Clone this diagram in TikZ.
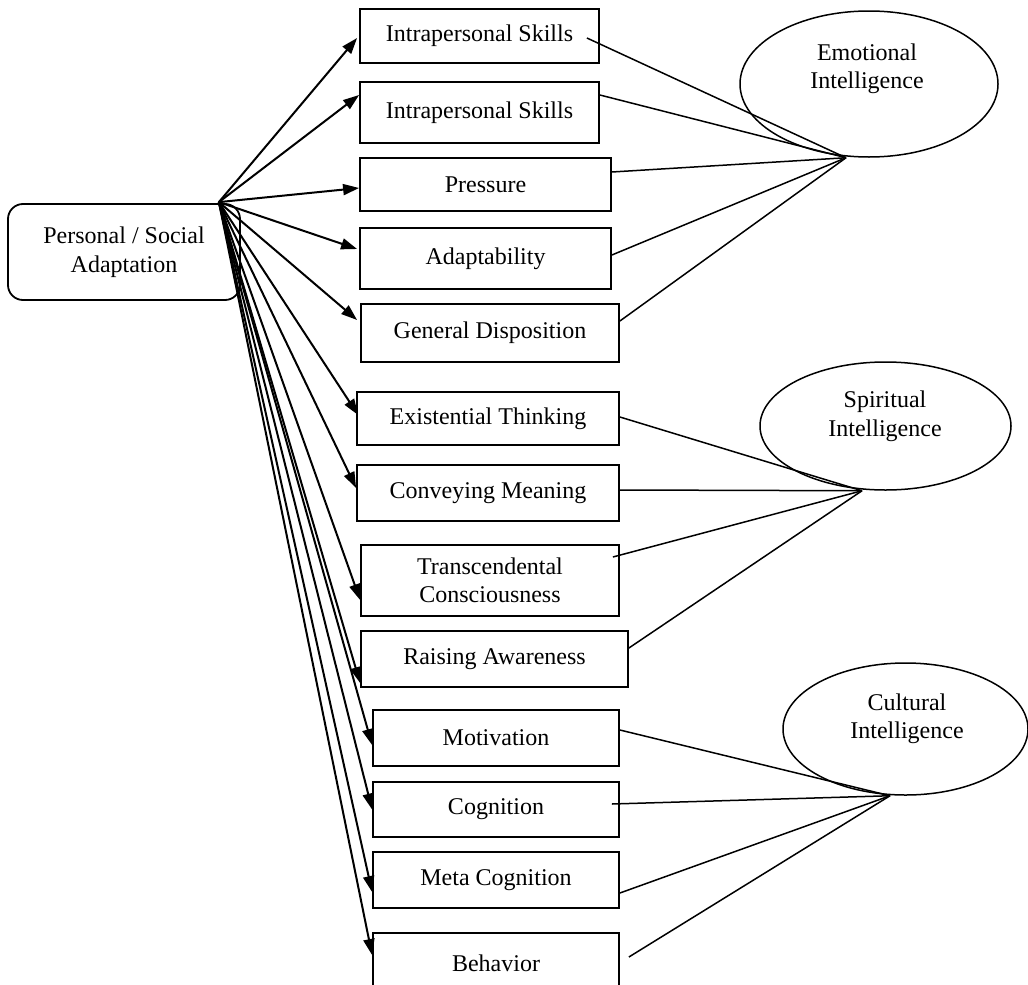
\documentclass[tikz,border=0pt]{standalone}
\usepackage{fontspec}
\setmainfont{Liberation Serif}
\usetikzlibrary{shapes.geometric,arrows.meta,calc}
\begin{document}
\begin{tikzpicture}[x=1pt,y=-1pt,
  every node/.style={font=\fontsize{24}{28.5}\selectfont},
  box/.style={draw, line width=1.8pt, rectangle, inner sep=0pt, align=center},
  oval/.style={draw, line width=1.5pt, ellipse, inner sep=0pt},
  arr/.style={line width=2pt, -{Triangle[length=16pt,width=11pt]}},
  link/.style={line width=1.5pt},
  lbl/.style={align=center, inner sep=0pt}]
\useasboundingbox (0,0) rectangle (1028,985);
\clip (0,0) rectangle (1028,985);

% main node
\node[box, rounded corners=15pt, minimum width=232pt, minimum height=96pt] (m) at (124,252) {Personal / Social\\Adaptation};

% boxes
\node[box, minimum width=239pt, minimum height=54pt] (b1) at (479.5,36) {Intrapersonal Skills};
\node[box, minimum width=239pt, minimum height=61pt] (b2) at (479.5,112.5) {Intrapersonal Skills};
\node[box, minimum width=251pt, minimum height=53pt] (b3) at (485.5,184.5) {Pressure};
\node[box, minimum width=251pt, minimum height=61pt] (b4) at (485.5,258.5) {Adaptability};
\node[box, minimum width=258pt, minimum height=58pt] (b5) at (490,333) {General Disposition};
\node[box, minimum width=262pt, minimum height=53pt] (b6) at (488,418.5) {Existential Thinking};
\node[box, minimum width=262pt, minimum height=56pt] (b7) at (488,493) {Conveying Meaning};
\node[box, minimum width=258pt, minimum height=71pt] (b8) at (490,580.5) {Transcendental\\Consciousness};
\node[box, minimum width=267pt, minimum height=56pt] (b9) at (494.5,659) {Raising Awareness};
\node[box, minimum width=246pt, minimum height=56pt] (b10) at (496,738) {Motivation};
\node[box, minimum width=246pt, minimum height=55pt] (b11) at (496,809.5) {Cognition};
\node[box, minimum width=246pt, minimum height=56pt] (b12) at (496,880) {Meta Cognition};
\node[box, minimum width=246pt, minimum height=60pt] (b13) at (496,963) {Behavior};

% ellipses
\node[oval, minimum width=258pt, minimum height=146pt] (EI) at (869,84) {};
\node[lbl] (EIt) at (867,69) {Emotional\\Intelligence};
\node[oval, minimum width=251pt, minimum height=128pt] (SI) at (885.5,426) {};
\node[lbl] (SIt) at (885,416.5) {Spiritual\\Intelligence};
\node[oval, minimum width=245pt, minimum height=132pt] (CI) at (905.5,729) {};
\node[lbl] (CIt) at (907,719) {Cultural\\Intelligence};

% convergence points
\coordinate (EIp) at ($(EI.south)+(-23,0)$);
\coordinate (SIp) at ($(SI.south)+(-23.5,0)$);
\coordinate (CIp) at ($(CI.south)+(-15.5,0)$);

% arrow origin
\coordinate (o) at ($(m.north east)+(-22,-1)$);

% arrows
\draw[arr] (o) -- ($(b1.west)+(-2,2)$);
\draw[arr] (o) -- ($(b2.west)+(0,-17.5)$);
\draw[arr] (o) -- ($(b3.west)+(0,3.5)$);
\draw[arr] (o) -- ($(b4.west)+(-2,-9.5)$);
\draw[arr] (o) -- ($(b5.west)+(-3,-13)$);
\draw[arr] (o) -- ($(b6.west)+(2,-3.5)$);
\draw[arr] (o) -- ($(b7.west)+(0,-5)$);
\draw[arr] (o) -- ($(b8.west)+(0,19.5)$);
\draw[arr] (o) -- ($(b9.west)+(0,24)$);
\draw[arr] (o) -- ($(b10.west)+(0,7)$);
\draw[arr] (o) -- ($(b11.west)+(0,0)$);
\draw[arr] (o) -- ($(b12.west)+(0,12)$);
\draw[arr] (o) -- ($(b13.west)+(0,-8)$);

% links to Emotional Intelligence
\draw[link] ($(b1.east)+(-13,2)$) -- (EIp);
\draw[link] ($(b2.east)+(0,-17.5)$) -- (EIp);
\draw[link] ($(b3.east)+(0,-12.5)$) -- (EIp);
\draw[link] ($(b4.east)+(0,-3.5)$) -- (EIp);
\draw[link] ($(b5.east)+(0,-12)$) -- (EIp);

% links to Spiritual Intelligence
\draw[link] ($(b6.east)+(0,-1.5)$) -- (SIp);
\draw[link] ($(b7.east)+(0,-3)$) -- (SIp);
\draw[link] ($(b8.east)+(-7,-23.5)$) -- (SIp);
\draw[link] ($(b9.east)+(0,-11)$) -- (SIp);

% links to Cultural Intelligence
\draw[link] ($(b10.east)+(0,-8)$) -- (CIp);
\draw[link] ($(b11.east)+(-8,-5.5)$) -- (CIp);
\draw[link] ($(b12.east)+(0,13)$) -- (CIp);
\draw[link] ($(b13.east)+(9,-6)$) -- (CIp);
\end{tikzpicture}
\end{document}
